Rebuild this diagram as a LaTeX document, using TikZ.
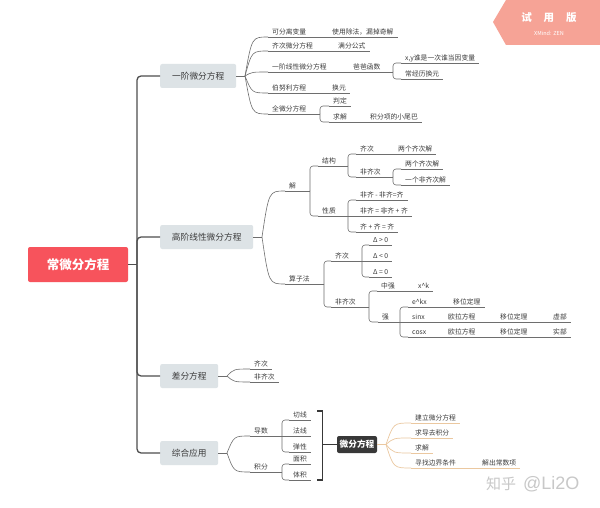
\documentclass[tikz,border=0pt]{standalone}
\usepackage{fontspec}
\setmainfont{Noto Sans CJK SC}
\newfontfamily\wmfont{Liberation Sans}
\usetikzlibrary{calc}
\definecolor{rootred}{HTML}{F7535C}
\definecolor{boxgray}{HTML}{DDE3E6}
\definecolor{trunkc}{HTML}{4E4E4E}
\definecolor{linec}{HTML}{6E6E6E}
\definecolor{txtc}{HTML}{3C3C3C}
\definecolor{orangec}{HTML}{EBC8A0}
\definecolor{darkbox}{HTML}{383838}
\definecolor{banner}{HTML}{F6A396}
\definecolor{wmc}{HTML}{C8C8C8}
\begin{document}
\begin{tikzpicture}[x=1pt,y=-1pt,
  rootbox/.style={fill=rootred, rounded corners=2pt, text=white, font=\fontsize{12.5}{14}\selectfont\bfseries, minimum width=100pt, minimum height=35pt, inner sep=0pt},
  l1box/.style={fill=boxgray, rounded corners=2pt, text=txtc, font=\fontsize{8.7}{10}\selectfont, minimum height=24pt, inner sep=0pt, anchor=west},
  wfbox/.style={fill=darkbox, rounded corners=2pt, text=white, font=\fontsize{8.7}{10}\selectfont\bfseries, minimum width=40pt, minimum height=17pt, inner sep=0pt},
  lab/.style={anchor=south west, text=txtc, font=\fontsize{6.8}{8}\selectfont, inner xsep=4pt, inner ysep=1.4pt, text height=5.6pt, text depth=1pt},
  trunk/.style={draw=trunkc, line width=1.3pt, rounded corners=4pt},
  conn/.style={draw=linec, line width=0.6pt},
  oconn/.style={draw=orangec, line width=0.7pt},
  bk/.style={conn, rounded corners=3pt},
  fan/.style={to path={let \p1=(\tikztostart), \p2=(\tikztotarget) in .. controls ({\x1+0.3*(\x2-\x1)},\y2) .. (\tikztotarget) \tikztonodes}},
]
\fill[white] (0,0) rectangle (600,508);
\useasboundingbox (0,0) rectangle (600,508);

% root and level 1
\node[rootbox] (root) at (78,264.5) {常微分方程};
\coordinate (tk) at (137,264.5);
\node[l1box, minimum width=76pt] (b1) at (160,76) {一阶微分方程};
\node[l1box, minimum width=93pt] (b2) at (160,237) {高阶线性微分方程};
\node[l1box, minimum width=58pt] (b3) at (160,376) {差分方程};
\node[l1box, minimum width=58pt] (b4) at (160,453) {综合应用};
\draw[trunk] (root.east) -- (tk);
\foreach \bx in {b1,b2,b3,b4} \draw[trunk] (tk) |- (\bx.west);

% ---- b1
\coordinate (br1) at (245,76);
\node[lab] (n11) at (268,37) {可分离变量};
\node[lab] (n111) at (328,37) {使用除法，漏掉奇解};
\node[lab] (n12) at (268,51) {齐次微分方程};
\node[lab] (n121) at (334,51) {满分公式};
\node[lab] (n13) at (268,72) {一阶线性微分方程};
\node[lab] (n131) at (349,72) {爸爸函数};
\coordinate (k131) at (393,72);
\node[lab] (n1311) at (401,63) {x,y谁是一次谁当因变量};
\node[lab] (n1312) at (401,79) {常经历换元};
\node[lab] (n14) at (268,93) {伯努利方程};
\node[lab] (n141) at (328,93) {换元};
\node[lab] (n15) at (268,114) {全微分方程};
\coordinate (k15) at (320,114);
\node[lab] (n151) at (329,106) {判定};
\node[lab] (n152) at (329,122) {求解};
\node[lab] (n1521) at (366,122) {积分项的小尾巴};

\draw[conn] (b1.east) -- (br1);
\draw[conn] (br1) to[fan] (n11.south west);
\draw[conn] (br1) to[fan] (n12.south west);
\draw[conn] (br1) to[fan] (n13.south west);
\draw[conn] (br1) to[fan] (n14.south west);
\draw[conn] (br1) to[fan] (n15.south west);
\draw[conn] (n11.south west) -- (n111.south east);
\draw[conn] (n12.south west) -- (n121.south east);
\draw[conn] (n13.south west) -- (k131);
\draw[bk] (k131) |- (n1311.south west);
\draw[bk] (k131) |- (n1312.south west);
\draw[conn] (n1311.south west) -- (n1311.south east);
\draw[conn] (n1312.south west) -- (n1312.south east);
\draw[conn] (n14.south west) -- (n141.south east);
\draw[conn] (n15.south west) -- (k15);
\draw[bk] (k15) |- (n151.south west);
\draw[bk] (k15) |- (n152.south west);
\draw[conn] (n151.south west) -- (n151.south east);
\draw[conn] (n152.south west) -- (n1521.south east);

% ---- b2
\coordinate (br2) at (262,237);
\node[lab] (n21) at (285,191) {解};
\coordinate (k21) at (310,191);
\node[lab] (n211) at (318,166) {结构};
\coordinate (k211) at (348,166);
\node[lab] (n2111) at (356,154) {齐次};
\node[lab] (n21111) at (394,154) {两个齐次解};
\node[lab] (n2112) at (356,177) {非齐次};
\coordinate (k2112) at (393,177);
\node[lab] (n21121) at (401,169) {两个齐次解};
\node[lab] (n21122) at (401,185) {一个非齐次解};
\node[lab] (n212) at (318,216) {性质};
\coordinate (k212) at (348,216);
\node[lab] (n2121) at (356,200) {非齐 - 非齐=齐};
\node[lab] (n2122) at (356,216) {非齐 = 非齐 + 齐};
\node[lab] (n2123) at (356,232) {齐 + 齐 = 齐};
\node[lab] (n22) at (285,284) {算子法};
\coordinate (k22) at (324,284);
\node[lab] (n221) at (331,261) {齐次};
\coordinate (k221) at (362,261);
\node[lab] (n2211) at (369,245) {Δ > 0};
\node[lab] (n2212) at (369,261) {Δ < 0};
\node[lab] (n2213) at (369,277) {Δ = 0};
\node[lab] (n222) at (331,307) {非齐次};
\coordinate (k222) at (369,307);
\node[lab] (n2221) at (377,291) {中强};
\node[lab] (n22211) at (414,291) {x\textasciicircum k};
\node[lab] (n2222) at (378,322) {强};
\coordinate (k2222) at (400,322);
\node[lab] (n22221) at (408,307) {e\textasciicircum kx};
\node[lab] (n222211) at (449,307) {移位定理};
\node[lab] (n22222) at (408,322) {sinx};
\node[lab] (n222221) at (444,322) {欧拉方程};
\node[lab] (n222222) at (496,322) {移位定理};
\node[lab] (n222223) at (549,322) {虚部};
\node[lab] (n22223) at (408,337) {cosx};
\node[lab] (n222231) at (444,337) {欧拉方程};
\node[lab] (n222232) at (496,337) {移位定理};
\node[lab] (n222233) at (549,337) {实部};

\draw[conn] (b2.east) -- (br2);
\draw[conn] (br2) to[fan] (n21.south west);
\draw[conn] (br2) to[fan] (n22.south west);
\draw[conn] (n21.south west) -- (k21);
\draw[bk] (k21) |- (n211.south west);
\draw[bk] (k21) |- (n212.south west);
\draw[conn] (n211.south west) -- (k211);
\draw[bk] (k211) |- (n2111.south west);
\draw[bk] (k211) |- (n2112.south west);
\draw[conn] (n2111.south west) -- (n21111.south east);
\draw[conn] (n2112.south west) -- (k2112);
\draw[bk] (k2112) |- (n21121.south west);
\draw[bk] (k2112) |- (n21122.south west);
\draw[conn] (n21121.south west) -- (n21121.south east);
\draw[conn] (n21122.south west) -- (n21122.south east);
\draw[conn] (n212.south west) -- (k212);
\draw[bk] (k212) |- (n2121.south west);
\draw[bk] (k212) |- (n2123.south west);
\draw[conn] (k212) -- (n2122.south west);
\draw[conn] (n2121.south west) -- (n2121.south east);
\draw[conn] (n2122.south west) -- (n2122.south east);
\draw[conn] (n2123.south west) -- (n2123.south east);
\draw[conn] (n22.south west) -- (k22);
\draw[bk] (k22) |- (n221.south west);
\draw[bk] (k22) |- (n222.south west);
\draw[conn] (n221.south west) -- (k221);
\draw[bk] (k221) |- (n2211.south west);
\draw[bk] (k221) |- (n2213.south west);
\draw[conn] (k221) -- (n2212.south west);
\draw[conn] (n2211.south west) -- (n2211.south east);
\draw[conn] (n2212.south west) -- (n2212.south east);
\draw[conn] (n2213.south west) -- (n2213.south east);
\draw[conn] (n222.south west) -- (k222);
\draw[bk] (k222) |- (n2221.south west);
\draw[bk] (k222) |- (n2222.south west);
\draw[conn] (n2221.south west) -- (n22211.south east);
\draw[conn] (n2222.south west) -- (k2222);
\draw[bk] (k2222) |- (n22221.south west);
\draw[bk] (k2222) |- (n22223.south west);
\draw[conn] (k2222) -- (n22222.south west);
\draw[conn] (n22221.south west) -- (n222211.south east);
\draw[conn] (n22222.south west) -- (n222223.south east);
\draw[conn] (n22223.south west) -- (n222233.south east);

% ---- b3
\coordinate (br3) at (227,376);
\node[lab] (n31) at (250,369) {齐次};
\node[lab] (n32) at (250,382) {非齐次};
\draw[conn] (b3.east) -- (br3);
\draw[conn] (br3) to[fan] (n31.south west);
\draw[conn] (br3) to[fan] (n32.south west);
\draw[conn] (n31.south west) -- (n31.south east);
\draw[conn] (n32.south west) -- (n32.south east);

% ---- b4
\coordinate (br4) at (227,453);
\node[lab] (n41) at (250,436) {导数};
\coordinate (k41) at (282,436);
\node[lab] (n411) at (289,420) {切线};
\node[lab] (n412) at (289,436) {法线};
\node[lab] (n413) at (289,452) {弹性};
\node[lab] (n42) at (250,472) {积分};
\coordinate (k42) at (282,472);
\node[lab] (n421) at (289,464) {面积};
\node[lab] (n422) at (289,480) {体积};
\draw[conn] (b4.east) -- (br4);
\draw[conn] (br4) to[fan] (n41.south west);
\draw[conn] (br4) to[fan] (n42.south west);
\draw[conn] (n41.south west) -- (k41);
\draw[bk] (k41) |- (n411.south west);
\draw[bk] (k41) |- (n413.south west);
\draw[conn] (k41) -- (n412.south west);
\draw[conn] (n42.south west) -- (k42);
\draw[bk] (k42) |- (n421.south west);
\draw[bk] (k42) |- (n422.south west);
\foreach \nd in {n411,n412,n413,n421,n422} \draw[conn] (\nd.south west) -- (\nd.south east);

% ---- summary bracket and 微分方程
\coordinate (bkt) at (317,411);
\coordinate (bkb) at (317,480);
\coordinate (bkm) at (322.5,444.5);
\node[wfbox] (wf) at (357,444.5) {微分方程};
\draw[draw=darkbox, line width=1.2pt] (bkt) -| (bkm) |- (bkb);
\draw[draw=darkbox, line width=1.2pt] (bkm) -- (wf.west);

\coordinate (br5) at (386,444.5);
\node[lab] (n51) at (411,423) {建立微分方程};
\node[lab] (n52) at (411,438) {求导去积分};
\node[lab] (n53) at (411,453) {求解};
\node[lab] (n54) at (411,468) {寻找边界条件};
\node[lab] (n541) at (478,468) {解出常数项};
\draw[oconn] (wf.east) -- (br5);
\draw[oconn] (br5) to[fan] (n51.south west);
\draw[oconn] (br5) to[fan] (n52.south west);
\draw[oconn] (br5) to[fan] (n53.south west);
\draw[oconn] (br5) to[fan] (n54.south west);
\foreach \nd in {n51,n52,n53} \draw[oconn] (\nd.south west) -- (\nd.south east);
\draw[oconn] (n54.south west) -- (n541.south east);

% ---- banner and watermark
\fill[banner] (506,0) -- (493,22) -- (506,45) -- (600,45) -- (600,0) -- cycle;
\node[text=white, font=\fontsize{10.5}{12}\selectfont\bfseries] (ban) at (549,18) {试\hspace{12pt}用\hspace{12pt}版};
\node[text=white, font=\fontsize{5.5}{6}\selectfont] (ban2) at (549,33) {XMind: ZEN};
\node[text=wmc, anchor=west, inner sep=0pt] (wm) at (486,484) {{\fontsize{15}{17}\selectfont 知乎}\hspace{7pt}{\wmfont\fontsize{18}{20}\selectfont @Li2O}};
\end{tikzpicture}
\end{document}
